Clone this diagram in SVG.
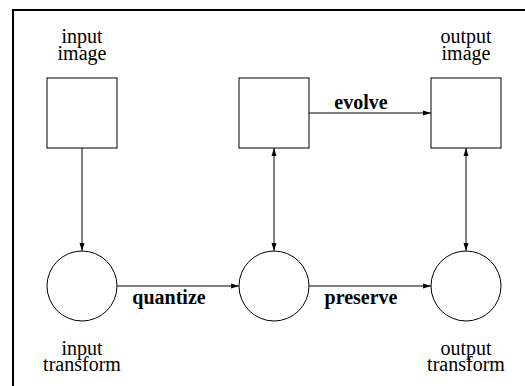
<svg xmlns="http://www.w3.org/2000/svg" width="525" height="386" viewBox="0 0 525 386">
<style>
.shape{fill:#fff;stroke:#000;stroke-width:1}
.edge{fill:none;stroke:#000;stroke-width:1}
.lbl{font-family:"Liberation Serif","Times New Roman",serif;font-size:20px;fill:#000;text-anchor:middle}
.bold{font-weight:bold}
</style>
<defs>
<marker id="ah" viewBox="0 0 8 6" refX="8" refY="3" markerWidth="8" markerHeight="6" markerUnits="userSpaceOnUse" orient="auto-start-reverse">
<path d="M0,0.5 L8,3 L0,5.5 Z" fill="#000"/>
</marker>
</defs>
<rect width="525" height="386" fill="#fff"/>
<g id="frame">
<path d="M13,386 V10 H525" fill="none" stroke="#000" stroke-width="2"/>
</g>
<g id="connectors">
<line class="edge" x1="82" y1="148" x2="82" y2="251" marker-end="url(#ah)"/>
<line class="edge" x1="274" y1="148" x2="274" y2="251" marker-start="url(#ah)" marker-end="url(#ah)"/>
<line class="edge" x1="466" y1="148" x2="466" y2="251" marker-start="url(#ah)" marker-end="url(#ah)"/>
<line class="edge" x1="309" y1="113" x2="431" y2="113" marker-end="url(#ah)"/>
<line class="edge" x1="117" y1="286" x2="239" y2="286" marker-end="url(#ah)"/>
<line class="edge" x1="309" y1="286" x2="431" y2="286" marker-end="url(#ah)"/>
<text class="lbl bold" x="361" y="109">evolve</text>
<text class="lbl bold" x="169" y="304">quantize</text>
<text class="lbl bold" x="361" y="304">preserve</text>
</g>
<g id="input-image">
<rect class="shape" x="47" y="78" width="70" height="70"/>
<text class="lbl" x="82" y="43">input</text>
<text class="lbl" x="82" y="60">image</text>
</g>
<g id="middle-image">
<rect class="shape" x="239" y="78" width="70" height="70"/>
</g>
<g id="output-image">
<rect class="shape" x="431" y="78" width="70" height="70"/>
<text class="lbl" x="466" y="43">output</text>
<text class="lbl" x="466" y="60">image</text>
</g>
<g id="input-transform">
<circle class="shape" cx="82" cy="286" r="35"/>
<text class="lbl" x="82" y="355">input</text>
<text class="lbl" x="82" y="371">transform</text>
</g>
<g id="middle-transform">
<circle class="shape" cx="274" cy="286" r="35"/>
</g>
<g id="output-transform">
<circle class="shape" cx="466" cy="286" r="35"/>
<text class="lbl" x="466" y="355">output</text>
<text class="lbl" x="466" y="371">transform</text>
</g>
</svg>
